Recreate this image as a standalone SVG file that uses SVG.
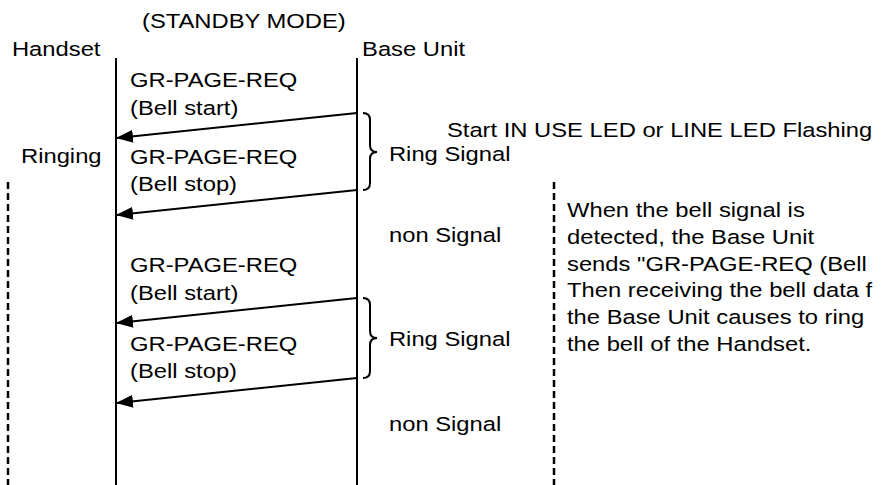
<svg xmlns="http://www.w3.org/2000/svg" width="888" height="485" viewBox="0 0 888 485">
<style>
text{font-family:"Liberation Sans",Arial,sans-serif;font-size:20.5px;fill:#000}
.life{stroke:#000;stroke-width:2;fill:none}
.dash{stroke:#000;stroke-width:2.5;stroke-dasharray:7 4;fill:none}
.msg{stroke:#000;stroke-width:2;fill:none;marker-end:url(#ah)}
.brace{stroke:#000;stroke-width:2;fill:none}
</style>
<defs>
<marker id="ah" viewBox="0 0 17 13" refX="16" refY="6.5" markerWidth="17" markerHeight="13" markerUnits="userSpaceOnUse" orient="auto">
<path d="M0,0 L17,6.5 L0,13 Z" fill="#000"/>
</marker>
</defs>
<rect width="888" height="485" fill="#fff"/>
<g id="title" transform="scale(1.16 1)"><text x="122.4" y="28">(STANDBY MODE)</text></g>
<g id="handset">
<line class="life" x1="116" y1="58" x2="116" y2="485"/>
<line class="dash" x1="8" y1="182" x2="8" y2="485"/>
<g transform="scale(1.16 1)"><text x="10.3" y="56">Handset</text><text x="18.1" y="163">Ringing</text></g>
</g>
<g id="base-unit">
<line class="life" x1="357" y1="58" x2="357" y2="485"/>
<g transform="scale(1.16 1)"><text x="312.1" y="56">Base Unit</text></g>
</g>
<g id="connectors">
<line class="msg" x1="357" y1="113" x2="117" y2="138"/>
<line class="msg" x1="357" y1="190" x2="117" y2="215"/>
<line class="msg" x1="357" y1="298" x2="117" y2="323"/>
<line class="msg" x1="357" y1="378" x2="117" y2="403"/>
<path class="brace" d="M363,113 Q370,113 370,120 L370,145 Q370,152 377,152 Q370,152 370,159 L370,183 Q370,190 363,190"/>
<path class="brace" d="M363,298 Q370,298 370,305 L370,331 Q370,338 377,338 Q370,338 370,345 L370,371 Q370,378 363,378"/>
</g>
<g id="message-labels" transform="scale(1.16 1)">
<text x="112.1" y="87">GR-PAGE-REQ</text>
<text x="112.1" y="115">(Bell start)</text>
<text x="112.1" y="164">GR-PAGE-REQ</text>
<text x="112.1" y="191">(Bell stop)</text>
<text x="112.1" y="272">GR-PAGE-REQ</text>
<text x="112.1" y="300">(Bell start)</text>
<text x="112.1" y="351">GR-PAGE-REQ</text>
<text x="112.1" y="378">(Bell stop)</text>
</g>
<g id="signal-labels" transform="scale(1.16 1)">
<text x="385.3" y="137">Start IN USE LED or LINE LED Flashing</text>
<text x="335.3" y="161">Ring Signal</text>
<text x="335.3" y="242">non Signal</text>
<text x="335.3" y="346">Ring Signal</text>
<text x="335.3" y="431">non Signal</text>
</g>
<g id="note">
<line class="dash" x1="554" y1="182" x2="554" y2="485"/>
<g transform="scale(1.16 1)">
<text x="488.8" y="217">When the bell signal is</text>
<text x="488.8" y="244">detected, the Base Unit</text>
<text x="488.8" y="271">sends "GR-PAGE-REQ (Bell</text>
<text x="488.8" y="297">Then receiving the bell data f</text>
<text x="488.8" y="324">the Base Unit causes to ring</text>
<text x="488.8" y="351">the bell of the Handset.</text>
</g>
</g>
</svg>
